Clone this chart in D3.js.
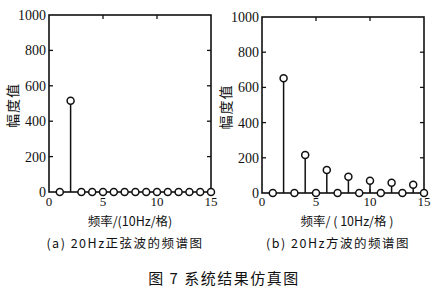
<!DOCTYPE html>
<html>
<head>
<meta charset="utf-8">
<script src="https://cdn.jsdelivr.net/npm/d3@7"></script>
<style>
  body { margin: 0; background: #fff; }
  svg text { fill: #111; }
</style>
</head>
<body>
<svg id="chart"></svg>
<script>
// chart data
const freqs = [1, 2, 3, 4, 5, 6, 7, 8, 9, 10, 11, 12, 13, 14, 15];
const sineValues = [0, 515, 0, 0, 0, 0, 0, 0, 0, 0, 0, 0, 0, 0, 0];
const squareValues = [0, 652, 0, 216, 0, 131, 0, 93, 0, 70, 0, 58, 0, 47, 0];
const xTicks = [0, 5, 10, 15];
const yTicks = [0, 200, 400, 600, 800, 1000];
const yLabel = "幅度值";
const captions = ["(a) 20Hz正弦波的频谱图", "(b) 20Hz方波的频谱图"];
const xLabels = ["频率/(10Hz/格)", "频率/ ( 10Hz/格 )"];
const figTitle = "图 7  系统结果仿真图";

const width = 445, height = 307;
const svg = d3.select("#chart").attr("width", width).attr("height", height);

const serif = "'Liberation Serif', 'DejaVu Serif', serif";
const cjk = "'Noto Sans CJK SC', sans-serif";

const panels = [
  { left: 49, right: 211, top: 15, bottom: 192, values: sineValues, xLabel: xLabels[0], caption: captions[0] },
  { left: 262, right: 424, top: 17, bottom: 193, values: squareValues, xLabel: xLabels[1], caption: captions[1] }
];

panels.forEach((p, k) => {
  const x = d3.scaleLinear().domain([0, 15]).range([p.left, p.right]);
  const y = d3.scaleLinear().domain([0, 1000]).range([p.bottom, p.top]);
  const g = svg.append("g");

  // frame
  g.append("rect")
    .attr("x", p.left).attr("y", p.top)
    .attr("width", p.right - p.left).attr("height", p.bottom - p.top)
    .attr("fill", "none").attr("stroke", "#111").attr("stroke-width", 1.6);

  // inner ticks
  const tl = 4;
  [5, 10].forEach(t => {
    g.append("line").attr("x1", x(t)).attr("x2", x(t)).attr("y1", p.top).attr("y2", p.top + tl)
      .attr("stroke", "#111").attr("stroke-width", 1.3);
    g.append("line").attr("x1", x(t)).attr("x2", x(t)).attr("y1", p.bottom).attr("y2", p.bottom - tl)
      .attr("stroke", "#111").attr("stroke-width", 1.3);
  });
  [200, 400, 600, 800].forEach(t => {
    g.append("line").attr("x1", p.left).attr("x2", p.left + tl).attr("y1", y(t)).attr("y2", y(t))
      .attr("stroke", "#111").attr("stroke-width", 1.3);
    g.append("line").attr("x1", p.right).attr("x2", p.right - tl).attr("y1", y(t)).attr("y2", y(t))
      .attr("stroke", "#111").attr("stroke-width", 1.3);
  });

  // tick labels
  g.selectAll(".yt").data(yTicks).join("text")
    .attr("x", p.left - 3).attr("y", d => y(d) + 5)
    .attr("text-anchor", "end")
    .style("font-family", serif).style("font-size", "14px")
    .text(d => d);
  g.selectAll(".xt").data(xTicks).join("text")
    .attr("x", d => x(d)).attr("y", 206)
    .attr("text-anchor", "middle")
    .style("font-family", serif).style("font-size", "13px")
    .text(d => d);

  // stems
  g.selectAll(".stem").data(freqs).join("line")
    .attr("x1", d => x(d)).attr("x2", d => x(d))
    .attr("y1", y(0)).attr("y2", (d, i) => y(p.values[i]))
    .attr("stroke", "#111").attr("stroke-width", 1.5);
  g.selectAll(".mk").data(freqs).join("circle")
    .attr("cx", d => x(d)).attr("cy", (d, i) => y(p.values[i]))
    .attr("r", 3.5)
    .attr("fill", "#fff").attr("stroke", "#111").attr("stroke-width", 1.5);

  // y label, rotated
  g.append("text")
    .attr("transform", `translate(${p.left - 31},${(p.top + p.bottom) / 2 + 2}) rotate(-90)`)
    .attr("text-anchor", "middle")
    .style("font-family", cjk).style("font-size", "14px").style("letter-spacing", "1px")
    .text(yLabel);

  // x label & caption
  g.append("text")
    .attr("x", (p.left + p.right) / 2 + (k === 0 ? 0 : 4)).attr("y", 226)
    .attr("text-anchor", "middle")
    .style("font-family", cjk).style("font-size", "12.5px")
    .text(p.xLabel);
  g.append("text")
    .attr("x", (p.left + p.right) / 2 - 5).attr("y", 248)
    .attr("text-anchor", "middle")
    .style("font-family", cjk).style("font-size", "12.5px").style("letter-spacing", "1.5px")
    .text(p.caption);
});

svg.append("text")
  .attr("x", 224).attr("y", 284)
  .attr("text-anchor", "middle")
  .style("font-family", cjk).style("font-size", "15px").style("letter-spacing", "1.5px")
  .text(figTitle);
</script>
</body>
</html>
